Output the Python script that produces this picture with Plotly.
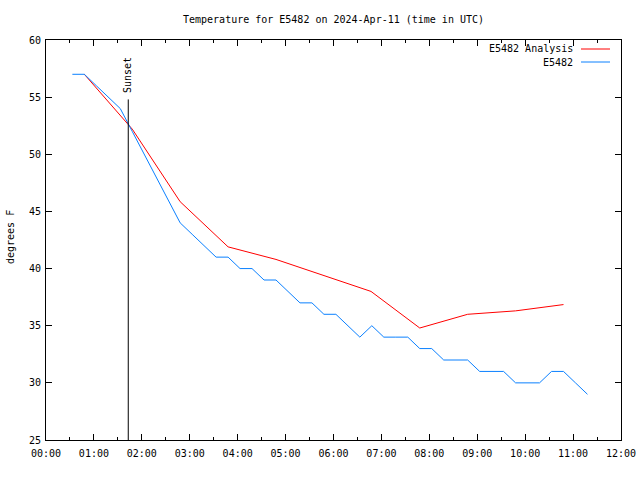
import plotly.graph_objects as go

DAY = "2024-04-11 "

obs_times = ["00:33", "00:48", "01:03", "01:18", "01:33", "01:48", "02:03", "02:18", "02:33", "02:48",
             "03:03", "03:18", "03:33", "03:48", "04:03", "04:18", "04:33", "04:48", "05:03", "05:18",
             "05:33", "05:48", "06:03", "06:18", "06:33", "06:48", "07:03", "07:18", "07:33", "07:48",
             "08:03", "08:18", "08:33", "08:48", "09:03", "09:18", "09:33", "09:48", "10:03", "10:18",
             "10:33", "10:48", "11:03", "11:18"]
obs_temps = [57, 57, 56, 55, 54, 52, 50, 48, 46, 44,
             43, 42, 41, 41, 40, 40, 39, 39, 38, 37,
             37, 36, 36, 35, 34, 35, 34, 34, 34, 33,
             33, 32, 32, 32, 31, 31, 31, 30, 30, 30,
             31, 31, 30, 29]

ana_times = ["00:48", "01:48", "02:48", "03:48", "04:48", "05:48", "06:47", "07:48", "08:48", "09:48", "10:48"]
ana_temps = [57.0, 52.2, 45.85, 41.9, 40.8, 39.4, 38.0, 34.8, 36.0, 36.3, 36.85]

sunset_time = "01:43"
title_text = "Temperature for E5482 on 2024-Apr-11 (time in UTC)"
series_names = ["E5482 Analysis", "E5482"]
series_colors = ["#ff0000", "#0a80ff"]

FONT = "DejaVu Sans Mono"
FS = 10

fig = go.Figure()
fig.add_trace(go.Scatter(x=[DAY + t for t in ana_times], y=ana_temps, mode="lines",
                         line=dict(color=series_colors[0], width=1), name=series_names[0], showlegend=False))
fig.add_trace(go.Scatter(x=[DAY + t for t in obs_times], y=obs_temps, mode="lines",
                         line=dict(color=series_colors[1], width=1), name=series_names[1], showlegend=False))

# Sunset marker
fig.add_shape(type="line", xref="x", yref="y", x0=DAY + sunset_time, x1=DAY + sunset_time,
              y0=25, y1=54.8, line=dict(color="black", width=1))
fig.add_annotation(x=DAY + sunset_time, y=55.2, xref="x", yref="y", text="Sunset", textangle=-90,
                   showarrow=False, xanchor="center", yanchor="bottom",
                   font=dict(family=FONT, size=FS, color="black"))

# gnuplot-style legend (text left of sample)
L, R, T, B = 46, 621, 40, 440
def px(x):
    return (x - L) / (R - L)
def py(y):
    return (B - y) / (B - T)

for i, (nm, col) in enumerate(zip(series_names, series_colors)):
    yy = 49 + 13 * i
    fig.add_annotation(x=px(575), y=py(yy), xref="paper", yref="paper", text=nm, showarrow=False,
                       xanchor="right", yanchor="middle", font=dict(family=FONT, size=FS, color="black"))
    fig.add_shape(type="line", xref="paper", yref="paper", x0=px(581), x1=px(610), y0=py(yy), y1=py(yy),
                  line=dict(color=col, width=1))

fig.add_annotation(x=px(10), y=py(237), xref="paper", yref="paper", text="degrees F", textangle=-90,
                   showarrow=False, xanchor="center", yanchor="middle",
                   font=dict(family=FONT, size=FS, color="black"))

fig.update_layout(
    width=640, height=480,
    margin=dict(l=L, r=640 - R, t=T, b=480 - B),
    paper_bgcolor="white", plot_bgcolor="white",
    font=dict(family=FONT, size=FS, color="black"),
    title=dict(text=title_text, x=0.5, xref="paper", y=1 - 19 / 480, yref="container",
               xanchor="center", yanchor="middle", font=dict(family=FONT, size=FS, color="black")),
    showlegend=False,
)
fig.update_xaxes(type="date", range=[DAY + "00:00", DAY + "12:00"], dtick=3600000, tick0=DAY + "00:00",
                 tickformat="%H:%M", ticks="inside", ticklen=6, tickcolor="black", showgrid=False,
                 showline=True, linecolor="black", linewidth=1, mirror="ticks", zeroline=False,
                 minor=dict(dtick=1800000, ticks="inside", ticklen=3, tickcolor="black", showgrid=False),
                 tickfont=dict(family=FONT, size=FS, color="black"), automargin=False,
                 ticklabelstandoff=4)
fig.update_yaxes(range=[25, 60], dtick=5, ticks="inside", ticklen=6, tickcolor="black", showgrid=False,
                 showline=True, linecolor="black", linewidth=1, mirror="ticks", zeroline=False,
                 tickfont=dict(family=FONT, size=FS, color="black"), automargin=False,
                 ticklabelstandoff=2)

fig.write_html("out.html", config={"displayModeBar": False},
               post_script="document.body.style.margin='0';document.body.style.overflow='hidden';")
